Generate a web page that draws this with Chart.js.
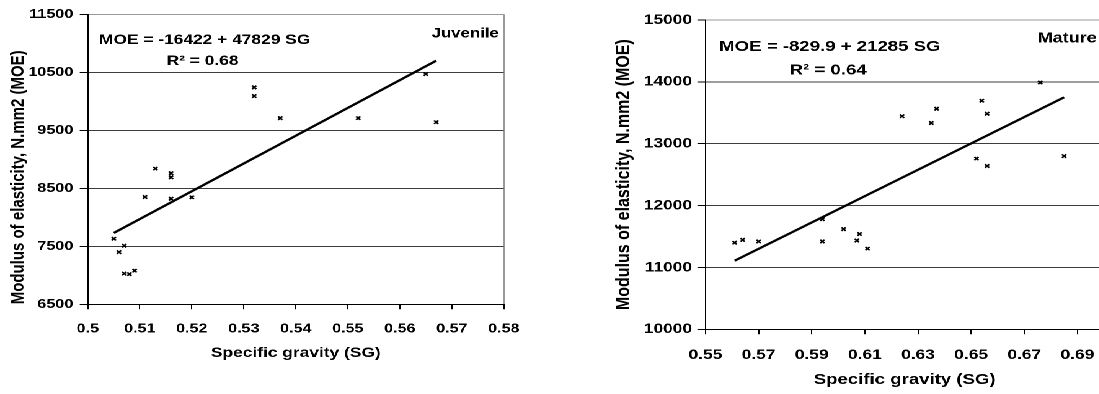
<!DOCTYPE html>
<html>
<head>
<meta charset="utf-8">
<title>MOE vs SG</title>
<script src="https://cdn.jsdelivr.net/npm/chart.js@4"></script>
<style>
  html, body { margin: 0; padding: 0; background: #fff; overflow: hidden; }
  /* the source picture is stretched sideways, so the page is too */
  #wrap { position: relative; width: 920px; height: 394px; transform: scaleX(1.24); transform-origin: 0 0; }
  #wrap canvas { position: absolute; top: 0; }
  #juvenile { left: 0; }
  #mature { left: 480px; }
</style>
</head>
<body>
<div id="wrap">
  <canvas id="juvenile" width="440" height="394"></canvas>
  <canvas id="mature" width="440" height="394"></canvas>
</div>
<script>
// juvenile wood
const juvSG  = [0.511, 0.513, 0.516, 0.516, 0.516, 0.520, 0.532, 0.532, 0.537, 0.552, 0.565, 0.567, 0.505, 0.506, 0.507, 0.507, 0.508, 0.509];
const juvMOE = [8350, 8840, 8760, 8690, 8320, 8345, 10240, 10090, 9710, 9710, 10470, 9640, 7630, 7400, 7510, 7030, 7020, 7080];
const juvFitSG  = [0.505, 0.567];
const juvFitMOE = [7730, 10700];
const juvXTicks = ['0.5', '0.51', '0.52', '0.53', '0.54', '0.55', '0.56', '0.57', '0.58'];
const juvYTicks = [6500, 7500, 8500, 9500, 10500, 11500];

// mature wood
const matSG  = [0.561, 0.564, 0.570, 0.594, 0.594, 0.602, 0.607, 0.608, 0.611, 0.624, 0.635, 0.637, 0.654, 0.656, 0.676, 0.652, 0.656, 0.685];
const matMOE = [11400, 11445, 11420, 11780, 11420, 11620, 11435, 11540, 11305, 13445, 13335, 13565, 13695, 13485, 13990, 12760, 12640, 12800];
const matFitSG  = [0.561, 0.685];
const matFitMOE = [11110, 13750];
const matXTicks = ['0.55', '0.57', '0.59', '0.61', '0.63', '0.65', '0.67', '0.69'];
const matYTicks = [10000, 11000, 12000, 13000, 14000, 15000];

const FONT = '"Liberation Sans", Arial, sans-serif';
Chart.defaults.color = '#000';
Chart.defaults.font.family = FONT;
Chart.defaults.font.weight = 'bold';

const textLabels = {
    id: 'textLabels',
    afterDatasetsDraw(chart, args, opts) {
        const ctx = chart.ctx;
        ctx.save();
        ctx.fillStyle = '#000';
        ctx.textBaseline = 'middle';
        opts.items.forEach(t => {
            ctx.font = 'bold ' + t.size + 'px ' + FONT;
            ctx.textAlign = t.align || 'left';
            ctx.fillText(t.text, t.x, t.y);
        });
        ctx.restore();
    }
};

function pts(xs, ys) {
    return xs.map((x, i) => ({x: x, y: ys[i]}));
}

function makeChart(id, s) {
    return new Chart(document.getElementById(id), {
        type: 'scatter',
        data: {
            datasets: [{
                data: pts(s.sg, s.moe),
                pointStyle: 'crossRot',
                pointRadius: 2.4,
                borderColor: '#000',
                backgroundColor: '#000',
                borderWidth: 1.5
            }, {
                data: pts(s.fitSG, s.fitMOE),
                showLine: true,
                pointRadius: 0,
                borderColor: '#000',
                borderWidth: 2.2
            }]
        },
        options: {
            responsive: false,
            animation: false,
            devicePixelRatio: 2,
            layout: { padding: s.pad },
            plugins: {
                legend: { display: false },
                tooltip: { enabled: false },
                textLabels: { items: s.texts }
            },
            scales: {
                x: {
                    type: 'linear',
                    min: s.xMin,
                    max: s.xMax,
                    afterBuildTicks: sc => { sc.ticks = s.xTicks.map(v => ({value: parseFloat(v)})); },
                    afterFit: sc => { sc.height = s.xHeight; },
                    ticks: {
                        autoSkip: false,
                        maxRotation: 0,
                        padding: s.xTickPad,
                        font: { size: s.tickSize, weight: 'bold' },
                        callback: (v, i) => s.xTicks[i]
                    },
                    grid: {
                        color: c => (c.tick && Math.abs(c.tick.value - s.xMax) < 1e-9) ? '#999' : 'rgba(0,0,0,0)',
                        tickColor: '#000',
                        tickLength: 5
                    },
                    border: { color: '#000', width: 1 },
                    title: {
                        display: true,
                        text: 'Specific gravity (SG)',
                        font: { size: s.xTitleSize, weight: 'bold' },
                        padding: { top: 0, bottom: s.xTitlePad }
                    }
                },
                y: {
                    type: 'linear',
                    min: s.yTicks[0],
                    max: s.yTicks[s.yTicks.length - 1],
                    afterBuildTicks: sc => { sc.ticks = s.yTicks.map(v => ({value: v})); },
                    afterFit: sc => { sc.width = s.yWidth; },
                    ticks: {
                        padding: s.yTickPad,
                        font: { size: s.tickSize, weight: 'bold' },
                        callback: v => String(v)
                    },
                    grid: {
                        color: c => (c.tick && c.tick.value === s.yTicks[s.yTicks.length - 1]) ? '#999' : '#3c3c3c',
                        tickColor: '#000',
                        tickLength: 6.5
                    },
                    border: { color: '#000', width: 1 },
                    title: {
                        display: true,
                        text: 'Modulus of elasticity, N.mm2 (MOE)',
                        align: s.yTitleAlign,
                        font: { size: s.yTitleSize, weight: 'bold' },
                        padding: { top: s.yTitlePad, bottom: 0 }
                    }
                }
            }
        },
        plugins: [textLabels]
    });
}

let juvChart = makeChart('juvenile', {
    sg: juvSG, moe: juvMOE, fitSG: juvFitSG, fitMOE: juvFitMOE,
    xTicks: juvXTicks, yTicks: juvYTicks, xMin: 0.5, xMax: 0.58,
    pad: { top: 14.3, right: 33.7, bottom: 0, left: 0 },
    xHeight: 89.7, yWidth: 70.8,
    tickSize: 13, xTickPad: 12, yTickPad: 5.2,
    xTitleSize: 14, xTitlePad: 32.5,
    yTitleSize: 15, yTitlePad: 5.9, yTitleAlign: 'start',
    texts: [
        { text: 'MOE = -16422 + 47829 SG', x: 79.8, y: 40, size: 14 },
        { text: 'R\u00B2 = 0.68', x: 134.4, y: 61, size: 14 },
        { text: 'Juvenile', x: 402.2, y: 34, size: 13.5, align: 'right' }
    ]
});

let matChart = makeChart('mature', {
    sg: matSG, moe: matMOE, fitSG: matFitSG, fitMOE: matFitMOE,
    xTicks: matXTicks, yTicks: matYTicks, xMin: 0.55, xMax: 0.70,
    pad: { top: 20, right: 29.7, bottom: 0, left: 0 },
    xHeight: 64.7, yWidth: 88.9,
    tickSize: 14, xTickPad: 12.5, yTickPad: 4.3,
    xTitleSize: 15, xTitlePad: 5,
    yTitleSize: 16, yTitlePad: 13.3, yTitleAlign: 'center',
    texts: [
        { text: 'MOE = -829.9 + 21285 SG', x: 100, y: 47, size: 15 },
        { text: 'R\u00B2 = 0.64', x: 156.8, y: 70.5, size: 15 },
        { text: 'Mature', x: 404.4, y: 38.5, size: 14.5, align: 'right' }
    ]
});
</script>
</body>
</html>
